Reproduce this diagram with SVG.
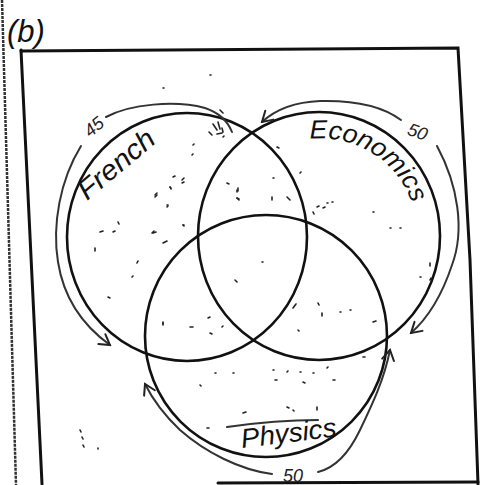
<svg xmlns="http://www.w3.org/2000/svg" width="481" height="485" viewBox="0 0 481 485">
<style>
.bg{fill:#fff}
.frame{fill:none;stroke:#111;stroke-width:3;stroke-linecap:round}
.edge{fill:none;stroke:#333;stroke-width:2.5;stroke-dasharray:3 1}
.ring{fill:none;stroke:#111;stroke-width:2.6}
.arc{fill:none;stroke:#333;stroke-width:2;stroke-linecap:round}
.lbl{font-family:"Liberation Sans","DejaVu Sans",sans-serif;font-style:italic;fill:#111}
.num{font-family:"Liberation Sans","DejaVu Sans",sans-serif;font-style:italic;fill:#222;font-size:18px}
.mk{fill:none;stroke:#222;stroke-width:1.6;stroke-linecap:round}
</style>
<defs>
<marker id="ah" viewBox="-12 -8 14 16" refX="0" refY="0" markerWidth="14" markerHeight="16" markerUnits="userSpaceOnUse" orient="auto">
<path d="M-10,-6 L0,0 L-10,6" fill="none" stroke="#222" stroke-width="2" stroke-linecap="round"/>
</marker>
</defs>
<rect class="bg" x="0" y="0" width="481" height="485"/>
<g id="frame">
<path class="edge" d="M2,0 L16,485"/>
<path class="frame" d="M21,50 L42,484"/>
<path class="frame" d="M21,51 L458,48 L470,260 L478,484"/>
<path class="frame" d="M218,483 L478,482"/>
<text class="lbl" x="7" y="42" font-size="31">(b)</text>
</g>
<g id="french">
<ellipse class="ring" cx="187" cy="237" rx="120" ry="124"/>
<text class="lbl" x="87" y="201" font-size="28" textLength="92" lengthAdjust="spacingAndGlyphs" transform="rotate(-40 87 201)">French</text>
</g>
<g id="economics">
<ellipse class="ring" cx="319" cy="236" rx="121" ry="124"/>
<path id="ecoPath" d="M310,139 A97,97 0 0 1 414,209" fill="none"/>
<text class="lbl" font-size="26"><textPath href="#ecoPath" textLength="130" lengthAdjust="spacingAndGlyphs">Economics</textPath></text>
</g>
<g id="physics">
<circle class="ring" cx="266" cy="336" r="121"/>
<path class="arc" d="M227,427 C255,423 290,420 318,420" stroke-width="1.5"/>
<text class="lbl" x="242" y="448" font-size="27" textLength="96" lengthAdjust="spacingAndGlyphs" transform="rotate(-7 242 448)">Physics</text>
</g>
<g id="connectors">
<path class="arc" d="M106,117 C130,104 175,100 205,108 C220,113 228,122 232,132"/>
<path class="arc" d="M81,146 C60,180 52,225 58,262 C64,300 85,327 110,345" marker-end="url(#ah)"/>
<text class="num" x="94" y="133" text-anchor="middle" transform="rotate(-40 94 127)">45</text>
<path class="arc" d="M401,120 C385,108 360,100 320,101 C295,102 275,110 262,122" marker-end="url(#ah)"/>
<path class="arc" d="M437,146 C458,185 465,230 452,265 C442,295 428,318 411,333" marker-end="url(#ah)"/>
<text class="num" x="418" y="138" text-anchor="middle" transform="rotate(20 418 131)">50</text>
<path class="arc" d="M272,474 C240,470 205,452 180,430 C162,413 152,398 145,384" marker-end="url(#ah)"/>
<path class="arc" d="M318,472 C335,468 348,455 360,430 C372,405 384,380 390,350" marker-end="url(#ah)"/>
<text class="num" x="293" y="482" text-anchor="middle">50</text>
</g>
<g id="marks">
<path class="mk" d="M155,195 l2,-2 M170,187 l1,2 M182,183 l2,-1 M167,205 l1,0 M153,233 l3,-1 M163,243 l4,-2 M183,225 l1,1 M237,190 l0,2 M237,198 l2,2 M272,197 l0,3 M287,197 l3,3 M313,212 l1,2 M323,208 l2,-1 M332,202 l1,0 M262,262 l1,0 M235,280 l2,2 M293,308 l3,-4 M318,303 l1,2 M322,313 l0,3 M163,323 l0,2 M190,327 l3,0 M208,318 l2,-1 M222,327 l1,-1 M210,333 l2,1 M298,330 l1,1"/>
<path class="mk" d="M193,145 l1,-1 M192,155 l1,-1 M173,177 l2,-1 M182,180 l2,-2 M170,187 l1,1 M155,197 l2,-2 M167,207 l1,-1 M118,222 l1,2 M100,232 l3,-1 M113,232 l2,-1 M152,233 l2,-2 M95,248 l0,3 M137,263 l1,-2 M132,277 l1,-1 M108,297 l2,1 M163,322 l0,2"/>
<path class="mk" d="M215,373 l1,0 M233,373 l1,0 M200,385 l1,1 M273,370 l1,0 M287,372 l1,-1 M300,372 l1,0 M313,373 l1,0 M327,368 l1,-1 M275,380 l2,0 M303,382 l2,1 M333,380 l2,0 M243,413 l3,-1 M287,407 l2,1 M293,410 l1,1 M317,407 l0,3 M207,428 l2,0"/>
<path class="mk" d="M80,430 l1,2 M82,437 l1,2 M83,445 l1,2 M98,448 l0,1"/>
<path class="mk" d="M210,75 l1,0 M163,88 l1,0 M277,147 l2,1 M273,178 l1,0 M300,173 l1,-1 M227,183 l2,1 M238,188 l0,3 M237,198 l2,1 M317,207 l2,-1 M327,203 l1,0 M373,212 l1,0 M390,228 l1,0 M400,228 l1,0 M183,225 l1,0"/>
<path class="mk" d="M213,124 l4,6 M218,122 l2,7 M222,128 l1,4 M209,132 l3,3 M217,134 l5,-1 M223,137 l1,-1 M220,110 l3,3"/>
<path class="mk" d="M340,312 l1,0 M350,310 l1,0 M373,322 l3,-1 M420,277 l1,0 M363,357 l2,0 M430,263 l0,3 M430,280 l1,-2"/>
</g>
</svg>
